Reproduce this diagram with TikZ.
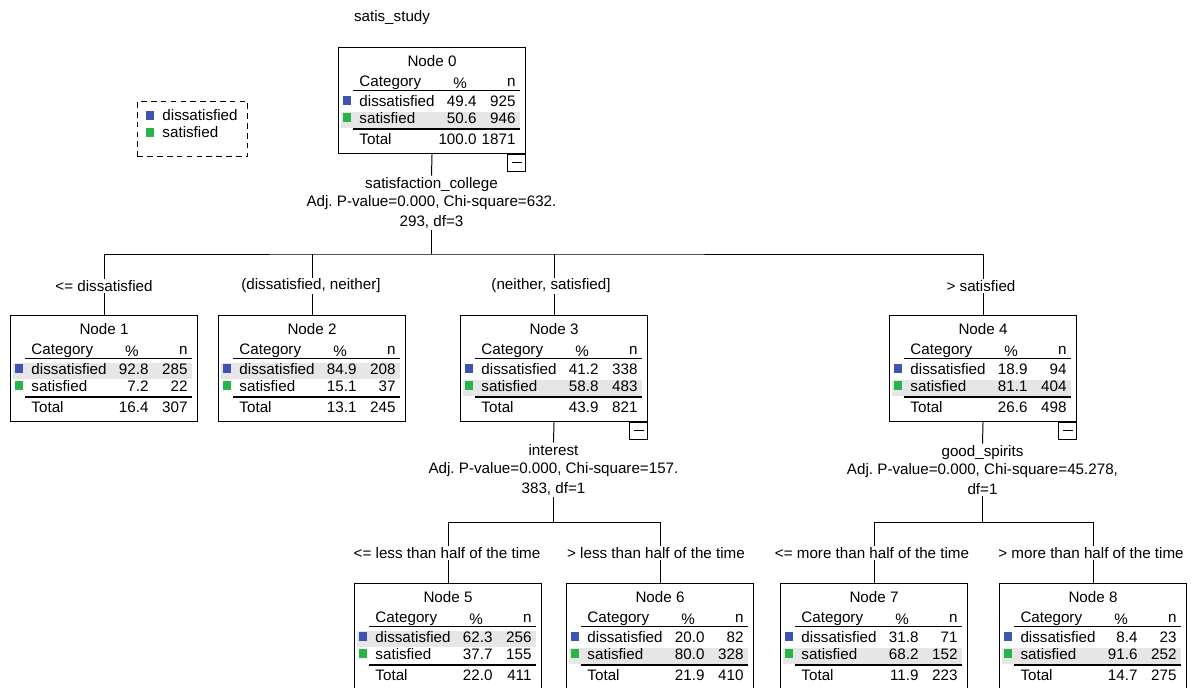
\documentclass[tikz,border=0pt]{standalone}
\usepackage{fontspec}
\setmainfont{Liberation Sans}
\frenchspacing
\definecolor{dissblue}{RGB}{62,84,178}
\definecolor{satgreen}{RGB}{40,180,75}
\definecolor{bandgray}{RGB}{230,230,230}

\begin{document}
\begin{tikzpicture}[x=0.025cm,y=-0.025cm,line width=0.7pt,
                    font=\fontsize{10.8}{12.5}\selectfont,
                    tree node/.style={draw,anchor=north west,minimum width=4.675cm,minimum height=2.65cm,inner sep=0pt},
                    cell/.style={inner sep=0pt},
                    split text/.style={align=center,inner sep=1pt},
                    branch label/.style={fill=white,inner sep=1pt},
                    minus box/.style={draw,anchor=north east,minimum width=0.45cm,minimum height=0.42cm,inner sep=0pt}
                   ]
  \useasboundingbox (0,0) rectangle (1193,687);
  \node (title) at (392,18) {satis\_study};

  % legend
  \node[draw,dash pattern=on 4pt off 3pt,anchor=north west,minimum width=2.75cm,minimum height=1.375cm] (legend) at (137,101) {};
  \fill[dissblue] (146,111) rectangle (154,120);
  \node[cell,anchor=mid west] (lg1) at (162,117) {dissatisfied};
  \fill[satgreen] (146,128) rectangle (154,137);
  \node[cell,anchor=mid west] (lg2) at (162,134) {satisfied};

  % tree nodes
  \foreach \k/\L/\T/\pa/\na/\pb/\nb/\pt/\nt/\hl in {
      0/338/47/49.4/925/50.6/946/100.0/1871/2,
      1/10/315/92.8/285/7.2/22/16.4/307/1,
      2/218/315/84.9/208/15.1/37/13.1/245/1,
      3/460/315/41.2/338/58.8/483/43.9/821/2,
      4/889/315/18.9/94/81.1/404/26.6/498/2,
      5/354/583/62.3/256/37.7/155/22.0/411/1,
      6/566/583/20.0/82/80.0/328/21.9/410/2,
      7/780/583/31.8/71/68.2/152/11.9/223/2,
      8/999/583/8.4/23/91.6/252/14.7/275/2}
  {
    \fill[bandgray] ({\L+3},{\T+48+(\hl-1)*17}) rectangle ({\L+182},{\T+64+(\hl-1)*17});
    \node[tree node] (n\k) at (\L,\T) {};
    \node[cell] (t\k) at ({\L+94},{\T+14}) {Node \k};
    \node[cell,anchor=mid west] (h\k) at ({\L+21},{\T+36}) {Category};
    \node[cell] (hp\k) at ({\L+122},{\T+36}) {\%};
    \node[cell,anchor=mid east] (hn\k) at ({\L+178},{\T+36}) {n};
    \draw ({\L+15},{\T+43}) -- ({\L+182},{\T+43});
    \fill[dissblue] ({\L+5},{\T+49}) rectangle ({\L+13},{\T+58});
    \node[cell,anchor=mid west] (a\k) at ({\L+21},{\T+56}) {dissatisfied};
    \node[cell,anchor=mid east] (ap\k) at ({\L+139},{\T+56}) {\pa};
    \node[cell,anchor=mid east] (an\k) at ({\L+178},{\T+56}) {\na};
    \fill[satgreen] ({\L+5},{\T+66}) rectangle ({\L+13},{\T+75});
    \node[cell,anchor=mid west] (b\k) at ({\L+21},{\T+73}) {satisfied};
    \node[cell,anchor=mid east] (bp\k) at ({\L+139},{\T+73}) {\pb};
    \node[cell,anchor=mid east] (bn\k) at ({\L+178},{\T+73}) {\nb};
    \draw[line width=1pt] ({\L+15},{\T+82}) -- ({\L+182},{\T+82});
    \node[cell,anchor=mid west] (c\k) at ({\L+21},{\T+94}) {Total};
    \node[cell,anchor=mid east] (cp\k) at ({\L+139},{\T+94}) {\pt};
    \node[cell,anchor=mid east] (cn\k) at ({\L+178},{\T+94}) {\nt};
  }
  \foreach \k in {0,3,4}
    \node[minus box] (m\k) at (n\k.south east) {\rule{0.25cm}{0.6pt}};

  % splits
  \node[split text] (s0) at (431.5,203) {satisfaction\_college\\Adj. P-value=0.000, Chi-square=632.\\[2pt]293, df=3};
  \node[split text] (s3) at (553.5,470) {interest\\Adj. P-value=0.000, Chi-square=157.\\[2pt]383, df=1};
  \node[split text] (s4) at (982.5,470) {good\_spirits\\Adj. P-value=0.000, Chi-square=45.278,\\[2pt]df=1};
  \coordinate (b0) at (431.5,254);
  \coordinate (b3) at (553.5,522);
  \coordinate (b4) at (982.5,522);

  \draw (n0.south) -- (s0.north);
  \draw (s0.south) -- (b0);
  \draw (n1.north) |- (b0) -| (n4.north);
  \draw (n2.north) -- (n2.north |- b0);
  \draw (n3.north) -- (n3.north |- b0);
  \draw (n3.south) -- (s3.north);
  \draw (s3.south) -- (b3);
  \draw (n5.north) |- (b3) -| (n6.north);
  \draw (n4.south) -- (s4.north);
  \draw (s4.south) -- (b4);
  \draw (n7.north) |- (b4) -| (n8.north);

  \node[branch label] (e1) at (104,286) {<= dissatisfied};
  \node[branch label] (e2) at (311,286) {(dissatisfied, neither]};
  \node[branch label] (e3) at (551,286) {(neither, satisfied]};
  \node[branch label] (e4) at (981,286) {> satisfied};
  \node[branch label] (e5) at (447,553) {<= less than half of the time};
  \node[branch label] (e6) at (656,553) {> less than half of the time};
  \node[branch label] (e7) at (872,553) {<= more than half of the time};
  \node[branch label] (e8) at (1091,553) {> more than half of the time};
\end{tikzpicture}
\end{document}
